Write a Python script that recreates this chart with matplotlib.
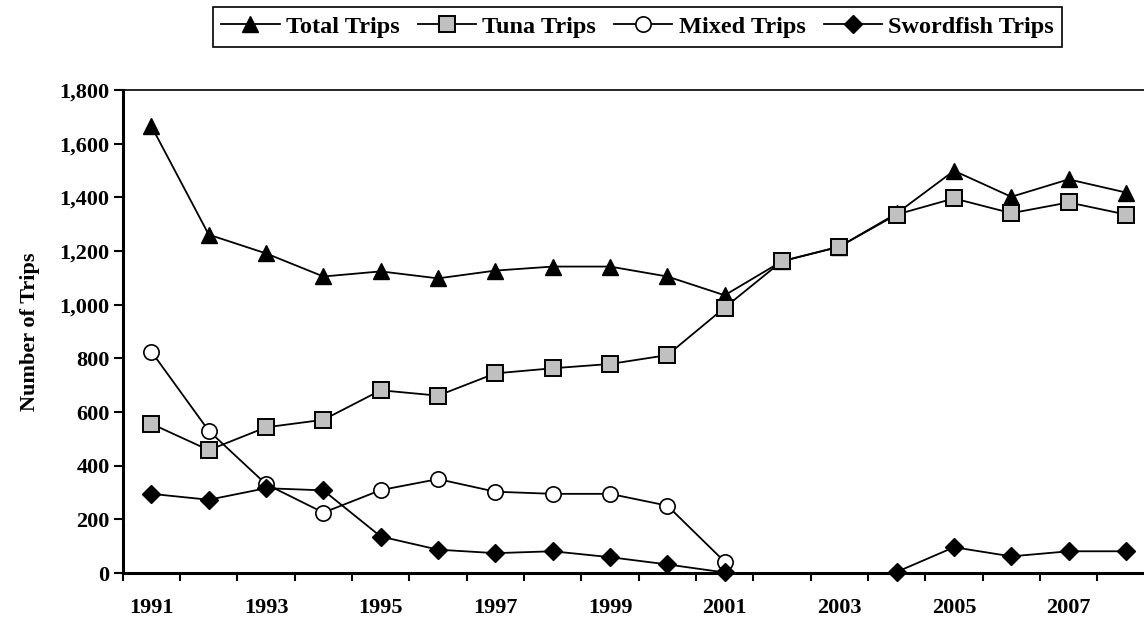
import numpy as np
import matplotlib
matplotlib.use('Agg')
import matplotlib.pyplot as plt

# --- dados ---
anos = list(range(1991, 2009))
total_trips = [1665, 1261, 1191, 1105, 1124, 1098, 1127, 1142, 1142, 1105, 1035,
               1162, 1216, 1340, 1499, 1402, 1467, 1418]
tuna_trips = [556, 458, 543, 571, 681, 661, 744, 763, 779, 812, 989,
              1162, 1216, 1336, 1396, 1341, 1381, 1336]
mixed_trips = [825, 530, 331, 225, 309, 350, 303, 295, 295, 251, 42,
               np.nan, np.nan, np.nan, np.nan, np.nan, np.nan, np.nan]
sword_trips = [295, 273, 316, 308, 136, 87, 74, 81, 59, 32, 2,
               np.nan, np.nan, 4, 96, 62, 81, 81]
rotulos_x = [str(a) if a % 2 == 1 else '' for a in anos]

plt.rcParams['font.family'] = ['Liberation Serif', 'DejaVu Serif']
plt.rcParams['font.weight'] = 'bold'

fig = plt.figure(figsize=(11.44, 6.19), dpi=100)
ax = fig.add_axes([0.1073, 0.0743, 0.902, 0.7803])

x = np.arange(len(anos))
lw = 1.3
l1, = ax.plot(x, total_trips, '-', color='black', lw=lw, marker='^', ms=12,
              mfc='black', mec='black', label='Total Trips')
l2, = ax.plot(x, tuna_trips, '-', color='black', lw=lw, marker='s', ms=11,
              mfc='#C0C0C0', mec='black', mew=1.4, label='Tuna Trips')
l3, = ax.plot(x, mixed_trips, '-', color='black', lw=lw, marker='o', ms=11,
              mfc='white', mec='black', mew=1.2, label='Mixed Trips')
l4, = ax.plot(x, sword_trips, '-', color='black', lw=lw, marker='D', ms=9.5,
              mfc='black', mec='black', label='Swordfish Trips')
for ln in (l1, l2, l3, l4):
    ln.set_clip_on(False)

ax.set_xlim(-0.5, len(anos) - 0.5)
ax.set_ylim(0, 1800)
ax.set_yticks(range(0, 1801, 200))
ax.set_yticklabels([f'{v:,}' for v in range(0, 1801, 200)], fontsize=16, fontweight='bold')

# marcas entre categorias, rótulos no centro
ax.set_xticks(np.arange(-0.5, len(anos), 1.0))
ax.set_xticklabels([])
ax.set_xticks(x, minor=True)
ax.set_xticklabels(rotulos_x, minor=True, fontsize=16, fontweight='bold')
ax.tick_params(axis='x', which='major', direction='out', length=6, width=1.5)
ax.tick_params(axis='x', which='minor', length=0, pad=18)
ax.tick_params(axis='y', direction='out', length=6.5, width=1.5, pad=3)

for s in ('left', 'bottom'):
    ax.spines[s].set_linewidth(2.2)
ax.spines['top'].set_linewidth(1.2)
ax.spines['right'].set_visible(False)

ax.set_ylabel('Number of Trips', fontsize=16, fontweight='bold', labelpad=14)

leg = fig.legend(handles=[l1, l2, l3, l4], loc='center', ncol=4,
                 bbox_to_anchor=(0.5573, 0.9564), bbox_transform=fig.transFigure,
                 fancybox=False, edgecolor='black', framealpha=1,
                 prop={'size': 17.5, 'weight': 'bold'}, handlelength=2.4,
                 columnspacing=0.75, handletextpad=0.25, borderpad=0.35)
leg.get_frame().set_linewidth(1.2)

fig.savefig('out.png', dpi=100)
